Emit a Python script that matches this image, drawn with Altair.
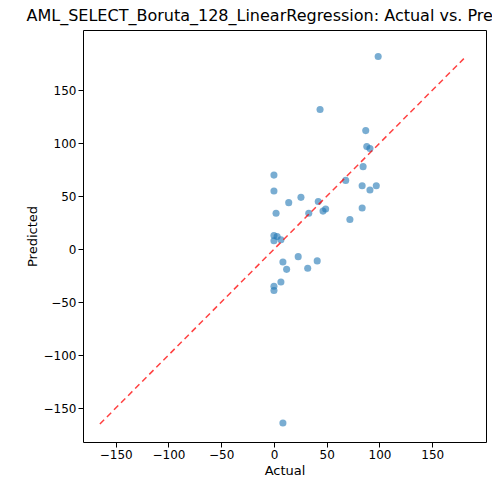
import pandas as pd
import altair as alt

actual = [98.8, 43.7, 87, 88, 91, 84.5, 68, 0, 0, 83.6, 97, 91, 25.6, 14, 42, 83.6, 2, 33,
          46.5, 49, 72, 0, 3, 0, 6.6, 23, 8.5, 41, 12, 32, 6.6, 0, 0, 8.5]
predicted = [182, 132, 112, 97, 95, 78, 65, 70, 55, 60, 60, 56, 49, 44, 45, 39, 34, 34,
             36, 38, 28, 13, 12, 8, 9, -7, -12, -11, -19, -18, -31, -35, -39, -164]
line_ends = [-165, 180]

pts = pd.DataFrame({"Actual": actual, "Predicted": predicted})
ref = pd.DataFrame({"Actual": line_ends, "Predicted": line_ends})

xs = alt.Scale(domain=[-181, 201], nice=False, zero=False)
ys = alt.Scale(domain=[-182, 207], nice=False, zero=False)

scatter = alt.Chart(pts).mark_circle(size=50, color="#1f77b4", opacity=0.6).encode(
    x=alt.X("Actual:Q", scale=xs, axis=alt.Axis(values=[-150, -100, -50, 0, 50, 100, 150])),
    y=alt.Y("Predicted:Q", scale=ys, axis=alt.Axis(values=[-150, -100, -50, 0, 50, 100, 150])),
)

diag = alt.Chart(ref).mark_line(color="red", opacity=0.75, strokeDash=[6, 4], strokeWidth=1.5).encode(
    x=alt.X("Actual:Q", scale=xs),
    y=alt.Y("Predicted:Q", scale=ys),
)

chart = (scatter + diag).properties(
    title="AML_SELECT_Boruta_128_LinearRegression: Actual vs. Predicted",
    width=403, height=412,
    autosize=alt.AutoSizeParams(type="none"),
    padding={"left": 75, "top": 22, "right": 6, "bottom": 50},
).configure_axis(
    grid=False, domain=False, labelFontSize=12, titleFontSize=13, titleFontWeight="normal",
    tickColor="black", labelColor="black", titleColor="black", labelFont="DejaVu Sans", titleFont="DejaVu Sans",
).configure_view(stroke="black", strokeWidth=1).configure_title(
    fontSize=16, fontWeight="normal", font="DejaVu Sans", offset=6
)

chart.save("out.html", embed_options={"renderer": "svg", "actions": False})
